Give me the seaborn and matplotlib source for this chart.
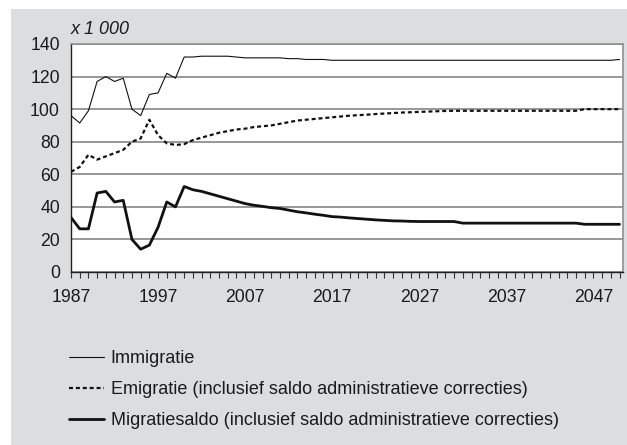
import numpy as np
import pandas as pd
import matplotlib
matplotlib.use("Agg")
import matplotlib.pyplot as plt
import seaborn as sns
from matplotlib.patches import Rectangle
from matplotlib.ticker import MultipleLocator, FixedLocator

sns.set_theme(style="white")
plt.rcParams["font.family"] = ["Liberation Sans", "DejaVu Sans"]

years = list(range(1987, 2051))

immigratie = [96, 91.5, 99, 117, 120, 117, 119, 100, 96, 109,
              110, 122, 119, 132, 132, 132.5, 132.5, 132.5, 132.5, 132,
              131.5, 131.5, 131.5, 131.5, 131.5, 131, 131, 130.5, 130.5, 130.5] \
    + [130] * 33 + [130.5]

emigratie = [61.5, 64.5, 72, 69, 71, 73, 75, 80, 82, 93.5,
             84, 79, 78, 78.5, 81, 82.5, 84, 85.5, 86.5, 87.5,
             88, 89, 89.5, 90, 91, 92, 93, 93.5, 94, 94.5,
             95, 95.5, 96, 96.3, 96.6, 97, 97.3, 97.6, 97.9, 98.1,
             98.3, 98.5, 98.7, 98.9] + [99] * 15 + [100] * 5

migratiesaldo = [33.5, 26.5, 26.5, 48.5, 49.5, 43, 44, 20, 14, 16.5,
                 27.5, 43, 40, 52.5, 50.5, 49.5, 48, 46.5, 45, 43.5,
                 42, 41, 40.3, 39.5, 39, 38, 37, 36.3, 35.5, 34.8,
                 34, 33.7, 33.2, 32.8, 32.4, 32, 31.7, 31.4, 31.3, 31.1,
                 31, 31, 31, 31, 31] + [30] * 14 + [29.3] * 5

labels = ["Immigratie",
          "Emigratie (inclusief saldo administratieve correcties)",
          "Migratiesaldo (inclusief saldo administratieve correcties)"]

df = pd.DataFrame({"jaar": years, labels[0]: immigratie,
                   labels[1]: emigratie, labels[2]: migratiesaldo})

W, H = 627, 445
fig = plt.figure(figsize=(W / 100, H / 100), dpi=100)
fig.patch.set_facecolor("white")
bg = "#dcdddf"
fig.add_artist(Rectangle((11 / W, 0), 1 - 11 / W, 1 - 9 / H,
                         transform=fig.transFigure, facecolor=bg,
                         edgecolor="none", zorder=-10))

ax = fig.add_axes([71 / W, 1 - 272 / H, (623 - 71) / W, (272 - 44) / H])
ax.set_facecolor("white")

styles = [dict(color="#111111", lw=0.8, ls="-"),
          dict(color="#111111", lw=1.6, ls=(0, (1.8, 1.3))),
          dict(color="#111111", lw=2.0, ls="-")]
for lab, st in zip(labels, styles):
    sns.lineplot(data=df, x="jaar", y=lab, ax=ax, color=st["color"],
                 linewidth=st["lw"], linestyle=st["ls"], label=lab,
                 legend=False, zorder=3)

ax.set_xlim(1987, 2050.4)
ax.set_ylim(0, 140)
ax.yaxis.set_major_locator(MultipleLocator(20))
ax.xaxis.set_major_locator(FixedLocator(list(range(1987, 2051, 10))))
ax.xaxis.set_minor_locator(FixedLocator(years))
ax.grid(axis="y", color="#8f8f8f", lw=1.3, zorder=1)
ax.grid(axis="x", visible=False)
ax.set_xlabel("")
ax.set_ylabel("")

for side in ["top", "right"]:
    ax.spines[side].set_color("#8f8f8f")
    ax.spines[side].set_linewidth(1.2)
for side in ["left", "bottom"]:
    ax.spines[side].set_color("#222222")
    ax.spines[side].set_linewidth(1.0)

ax.tick_params(axis="y", length=0, pad=8, labelsize=12.7, labelcolor="#1a1a1a")
ax.tick_params(axis="x", which="both", direction="out", length=4, width=0.8,
               color="#333333", bottom=True, labelsize=12.7, labelcolor="#1a1a1a", pad=8)
ax.tick_params(axis="x", which="minor", length=4)

ax.text(0, 1.025, "x 1 000", transform=ax.transAxes, ha="left", va="bottom",
        fontsize=13, style="italic", color="#1a1a1a")

handles = ax.get_lines()[:3]
fig.legend(handles=handles, labels=labels, loc="upper left",
           bbox_to_anchor=(53 / W, 1 - 334 / H), frameon=False,
           fontsize=13, handlelength=1.95, handletextpad=0.35,
           labelspacing=0.78, labelcolor="#1a1a1a")

fig.savefig("out.png", dpi=100, facecolor=fig.get_facecolor())
